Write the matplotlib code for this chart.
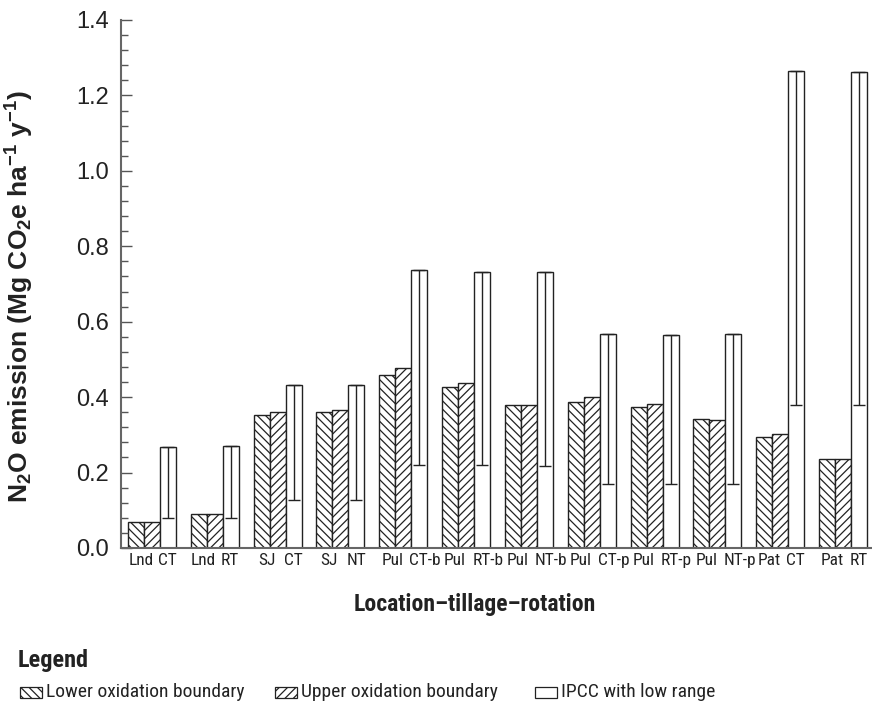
import matplotlib
matplotlib.use("Agg")
import matplotlib.pyplot as plt
from matplotlib import font_manager
from matplotlib.patches import Rectangle
import numpy as np

# 数据
locations = ["Lnd", "Lnd", "SJ", "SJ", "Pul", "Pul", "Pul", "Pul", "Pul", "Pul", "Pat", "Pat"]
treatments = ["CT", "RT", "CT", "NT", "CT-b", "RT-b", "NT-b", "CT-p", "RT-p", "NT-p", "CT", "RT"]
lower_ox = [0.068, 0.090, 0.352, 0.360, 0.458, 0.426, 0.378, 0.386, 0.373, 0.343, 0.295, 0.237]
upper_ox = [0.068, 0.090, 0.360, 0.365, 0.476, 0.437, 0.378, 0.400, 0.381, 0.340, 0.303, 0.235]
ipcc = [0.267, 0.270, 0.432, 0.431, 0.737, 0.732, 0.732, 0.568, 0.566, 0.568, 1.265, 1.263]
ipcc_low = [0.079, 0.080, 0.128, 0.128, 0.220, 0.219, 0.218, 0.169, 0.169, 0.169, 0.378, 0.378]

names = {f.name for f in font_manager.fontManager.ttflist}
narrow = "Roboto Condensed" if "Roboto Condensed" in names else "DejaVu Sans"
regular = "Liberation Sans"
plt.rcParams['font.family'] = [regular, 'DejaVu Sans']
plt.rcParams['mathtext.default'] = 'regular'
plt.rcParams['hatch.linewidth'] = 0.9
plt.rcParams['hatch.color'] = '#222222'

fig = plt.figure(figsize=(8.72, 7.11), dpi=100)
ax = fig.add_axes([121 / 872, 1 - 548 / 711, 751 / 872, (548 - 20) / 711])

x = np.arange(len(lower_ox))
bw = 0.2547
edge = '#222222'

ax.bar(x - bw, lower_ox, bw, facecolor='white', edgecolor=edge, hatch='\\\\\\\\', linewidth=1.0)
ax.bar(x, upper_ox, bw, facecolor='white', edgecolor=edge, hatch='////', linewidth=1.0)
ax.bar(x + bw, ipcc, bw, facecolor='white', edgecolor=edge, linewidth=1.0)

# IPCC 下限误差线
err_low = np.array(ipcc) - np.array(ipcc_low)
ax.errorbar(x + bw, ipcc, yerr=[err_low, np.zeros_like(err_low)], fmt='none',
            ecolor=edge, elinewidth=1.0, capsize=4, capthick=1.0)

ax.set_xlim(-0.4935, 11.46)
ax.set_ylim(0, 1.4)
ax.set_yticks(np.arange(0, 1.41, 0.2))
ax.set_yticks(np.arange(0, 1.41, 0.04), minor=True)
ax.set_yticklabels([f"{v:.1f}" for v in np.arange(0, 1.41, 0.2)], fontsize=17, color='#222222')
ax.tick_params(axis='y', which='major', direction='in', length=8, width=1.0, color='#555555', pad=9)
ax.tick_params(axis='y', which='minor', direction='in', length=5, width=1.0, color='#555555')
ax.set_xticks([])

for s in ['top', 'right']:
    ax.spines[s].set_visible(False)
for s in ['left', 'bottom']:
    ax.spines[s].set_color('#666666')
    ax.spines[s].set_linewidth(1.5)

# 两段式的x轴标签
for i in range(len(x)):
    ax.text(x[i] - 0.5 * bw - 0.05, -0.012, locations[i], ha='center', va='top',
            fontsize=12.5, family=narrow, color='#222222')
    ax.text(x[i] + 0.5 * bw - 0.03, -0.012, treatments[i], ha='left', va='top',
            fontsize=12.5, family=narrow, color='#222222', clip_on=False)

fig.text(20 / 872, 1 - 297 / 711, r"N$_2$O emission (Mg CO$_2$e ha$^{-1}$ y$^{-1}$)",
         rotation=90, ha='center', va='center', fontsize=19, fontweight='bold', color='#222222')

fig.text(475 / 872, 1 - 605 / 711, "Location–tillage–rotation", ha='center', va='center',
         fontsize=17, fontweight='bold', family=narrow, color='#222222')

fig.text(18 / 872, 1 - 660 / 711, "Legend", ha='left', va='center',
         fontsize=17.5, fontweight='bold', family=narrow, color='#222222')

legend_items = [("Lower oxidation boundary", '\\\\\\\\', 20), ("Upper oxidation boundary", '////', 275),
                ("IPCC with low range", None, 535)]
for label, hatch, px in legend_items:
    r = Rectangle((px / 872, 1 - 698 / 711), 22 / 872, 11 / 711, transform=fig.transFigure,
                  facecolor='white', edgecolor=edge, hatch=hatch, linewidth=0.9)
    fig.patches.append(r)
    fig.text((px + 26) / 872, 1 - 692 / 711, label, ha='left', va='center',
             fontsize=14, family=narrow, color='#222222')

fig.savefig("out.png", dpi=100)
